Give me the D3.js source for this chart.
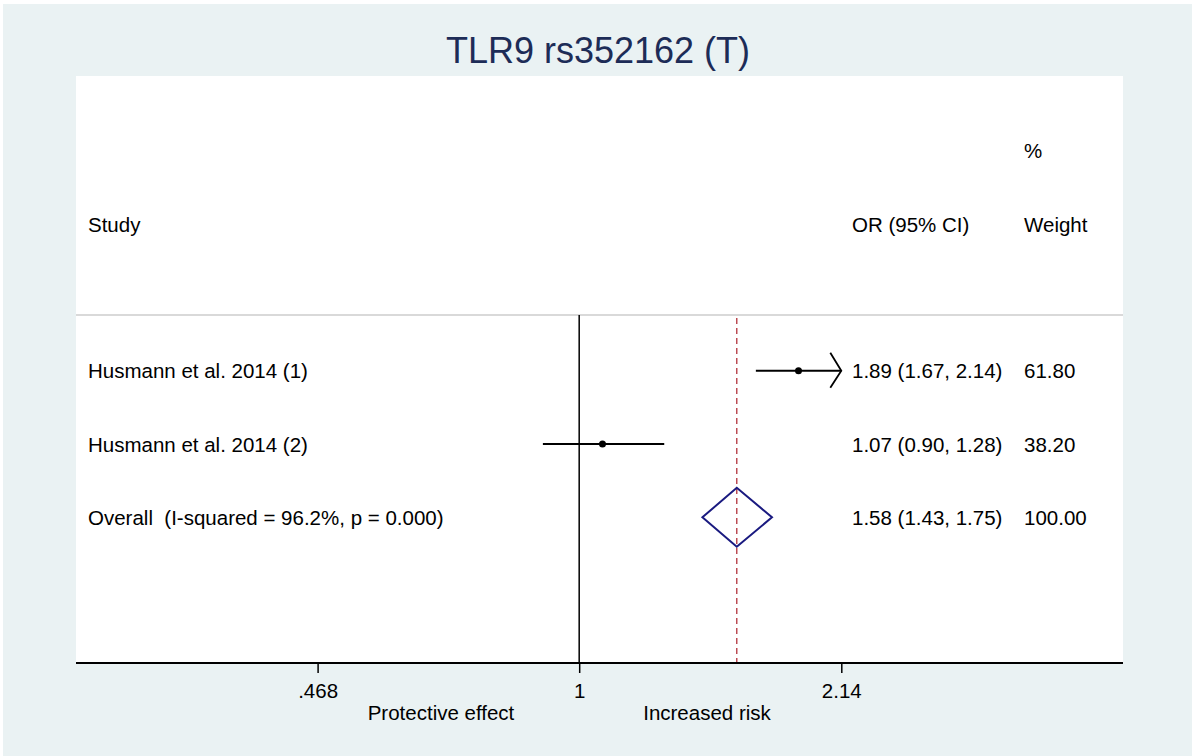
<!DOCTYPE html>
<html>
<head>
<meta charset="utf-8">
<script src="https://cdn.jsdelivr.net/npm/d3@7"></script>
<style>
  body { margin: 0; background: #fff; }
  text { font-family: "Liberation Sans", Arial, sans-serif; white-space: pre; }
</style>
</head>
<body>
<div id="chart"></div>
<script>
// data
var title = "TLR9 rs352162 (T)";
var studies = ["Husmann et al. 2014 (1)", "Husmann et al. 2014 (2)"];
var orVals = [1.89, 1.07];
var ciLow = [1.67, 0.90];
var ciHigh = [2.14, 1.28];
var weights = ["61.80", "38.20"];
var overallLabel = "Overall  (I-squared = 96.2%, p = 0.000)";
var overall = [1.58, 1.43, 1.75]; // OR, low, high
var overallWeight = "100.00";
var tickVals = [0.468, 1, 2.14];
var tickLabels = [".468", "1", "2.14"];

var W = 1192, H = 756;
var fontSize = "20.5px";

var svg = d3.select("#chart").append("svg")
  .attr("width", W)
  .attr("height", H);

// outer background
svg.append("rect")
  .attr("x", 3).attr("y", 4)
  .attr("width", W - 3).attr("height", H - 4)
  .attr("fill", "#eaf2f3");

// plot region
var plotL = 76, plotR = 1123, plotT = 76, plotB = 663;
svg.append("rect")
  .attr("x", plotL).attr("y", plotT)
  .attr("width", plotR - plotL).attr("height", plotB - plotT)
  .attr("fill", "#fff");

svg.append("text")
  .attr("x", 598).attr("y", 63)
  .attr("text-anchor", "middle")
  .attr("font-size", "36px")
  .attr("fill", "#1d2c57")
  .text(title);

var x = d3.scaleLog()
  .domain([tickVals[0], tickVals[2]])
  .range([317.6, 841.3]);

var y = d3.scaleLinear()
  .domain([0, 2])
  .range([370.7, 517.3]);

var sepY = 315;

// header
var hdr = svg.append("g").attr("font-size", fontSize).attr("fill", "#000");
hdr.append("text").attr("x", 88).attr("y", 232).text("Study");
hdr.append("text").attr("x", 852).attr("y", 232).text("OR (95% CI)");
hdr.append("text").attr("x", 1024).attr("y", 232).text("Weight");
hdr.append("text").attr("x", 1024).attr("y", 158).text("%");

// separator line
svg.append("line")
  .attr("x1", plotL).attr("x2", plotR)
  .attr("y1", sepY).attr("y2", sepY)
  .attr("stroke", "#cccccc").attr("stroke-width", 1.5);

// null line at 1
svg.append("line")
  .attr("x1", x(1)).attr("x2", x(1))
  .attr("y1", sepY).attr("y2", plotB)
  .attr("stroke", "#000").attr("stroke-width", 1.5);

// overall effect line
svg.append("line")
  .attr("x1", x(overall[0])).attr("x2", x(overall[0]))
  .attr("y1", sepY + 3).attr("y2", plotB)
  .attr("stroke", "#b2303a").attr("stroke-width", 1.3)
  .attr("stroke-dasharray", "6,4");

// study rows
var rows = svg.append("g").selectAll(".row")
  .data(studies)
  .enter().append("g")
  .attr("class", "row");

rows.append("line")
  .attr("x1", function(d, i) { return x(ciLow[i]); })
  .attr("x2", function(d, i) { return x(ciHigh[i]); })
  .attr("y1", function(d, i) { return y(i); })
  .attr("y2", function(d, i) { return y(i); })
  .attr("stroke", "#000").attr("stroke-width", 2);

rows.append("circle")
  .attr("cx", function(d, i) { return x(orVals[i]); })
  .attr("cy", function(d, i) { return y(i); })
  .attr("r", 3.5)
  .attr("fill", "#000");

// arrow where CI reaches the axis limit
rows.filter(function(d, i) { return ciHigh[i] >= x.domain()[1]; })
  .append("path")
  .attr("d", function(d) {
    var i = studies.indexOf(d);
    var tx = x(ciHigh[i]), ty = y(i);
    return "M" + (tx - 11) + "," + (ty - 18) + "L" + tx + "," + ty + "L" + (tx - 11) + "," + (ty + 17);
  })
  .attr("fill", "none").attr("stroke", "#000").attr("stroke-width", 1.8);

rows.append("text")
  .attr("x", 88)
  .attr("y", function(d, i) { return y(i) + 7.5; })
  .attr("font-size", fontSize)
  .text(function(d) { return d; });

rows.append("text")
  .attr("x", 852)
  .attr("y", function(d, i) { return y(i) + 7.5; })
  .attr("font-size", fontSize)
  .text(function(d, i) {
    return orVals[i].toFixed(2) + " (" + ciLow[i].toFixed(2) + ", " + ciHigh[i].toFixed(2) + ")";
  });

rows.append("text")
  .attr("x", 1024)
  .attr("y", function(d, i) { return y(i) + 7.5; })
  .attr("font-size", fontSize)
  .text(function(d, i) { return weights[i]; });

// overall diamond
var oy = y(2);
svg.append("path")
  .attr("d", "M" + x(overall[1]) + "," + oy +
             "L" + x(overall[0]) + "," + (oy - 29.5) +
             "L" + x(overall[2]) + "," + oy +
             "L" + x(overall[0]) + "," + (oy + 29.5) + "Z")
  .attr("fill", "none").attr("stroke", "#1a1a80").attr("stroke-width", 2);

svg.append("text")
  .attr("x", 88).attr("y", oy + 7.5)
  .attr("font-size", fontSize)
  .attr("xml:space", "preserve")
  .text(overallLabel);
svg.append("text")
  .attr("x", 852).attr("y", oy + 7.5)
  .attr("font-size", fontSize)
  .text(overall[0].toFixed(2) + " (" + overall[1].toFixed(2) + ", " + overall[2].toFixed(2) + ")");
svg.append("text")
  .attr("x", 1024).attr("y", oy + 7.5)
  .attr("font-size", fontSize)
  .text(overallWeight);

// x axis
var axis = d3.axisBottom(x)
  .tickValues(tickVals)
  .tickFormat(function(d, i) { return tickLabels[i]; })
  .tickSize(10)
  .tickSizeOuter(0)
  .tickPadding(10);

var ax = svg.append("g")
  .attr("transform", "translate(0," + plotB + ")")
  .call(axis);
ax.select(".domain").remove();
ax.selectAll(".tick line").attr("stroke", "#000").attr("stroke-width", 1.5);
ax.selectAll(".tick text")
  .attr("font-size", fontSize)
  .attr("font-family", "Liberation Sans, Arial, sans-serif")
  .attr("fill", "#000");

svg.append("line")
  .attr("x1", plotL).attr("x2", plotR)
  .attr("y1", plotB).attr("y2", plotB)
  .attr("stroke", "#000").attr("stroke-width", 2);

svg.append("text")
  .attr("x", 441).attr("y", 720)
  .attr("text-anchor", "middle")
  .attr("font-size", fontSize)
  .text("Protective effect");
svg.append("text")
  .attr("x", 707).attr("y", 720)
  .attr("text-anchor", "middle")
  .attr("font-size", fontSize)
  .text("Increased risk");
</script>
</body>
</html>
